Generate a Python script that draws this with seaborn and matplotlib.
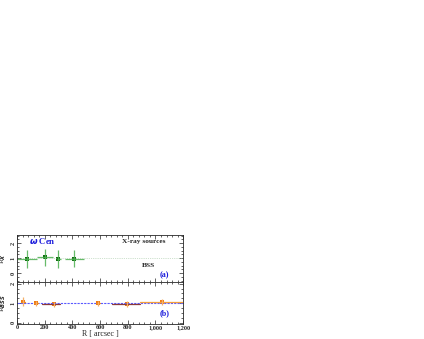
import numpy as np
import pandas as pd
import matplotlib
matplotlib.use("Agg")
import matplotlib.pyplot as plt
import seaborn as sns
from matplotlib.ticker import MultipleLocator, FuncFormatter

# top panel: X-ray sources
xr_r = [74, 202, 298, 413]
xr_lo = [0, 147, 287, 347]
xr_hi = [142, 258, 316, 485]
xr_val = [0.94, 1.05, 0.92, 0.96]
xr_err = [0.58, 0.55, 0.6, 0.58]

# bottom panel: BSS
bss_r = [45, 135, 268, 584, 794, 1046]
bss_lo = [30, 120, 180, 570, 685, 890]
bss_hi = [60, 150, 310, 600, 890, 1200]
bss_val = [1.08, 1.0, 0.95, 1.0, 0.97, 1.05]
bss_err = [0.22, 0.12, 0.12, 0.12, 0.15, 0.14]
bss_bar_col = ["#f08a1c", "#f08a1c", "#8b3a3a", "#f08a1c", "#8b3a3a", "#f5a03c"]

sns.set_style("ticks")
plt.rcParams["font.family"] = ["Liberation Serif", "DejaVu Serif"]
plt.rcParams["font.weight"] = "bold"

fig = plt.figure(figsize=(4.24, 3.39), dpi=100)
ax1 = fig.add_axes([0.040, 0.168, 0.392, 0.139])
ax2 = fig.add_axes([0.040, 0.045, 0.392, 0.123], sharex=ax1)

fs = 5.3

# top panel
ax1.axhline(1, color="#9fc59f", lw=0.5, ls=":")
xr = pd.DataFrame({"r": xr_r, "v": xr_val})
ax1.errorbar(xr_r, xr_val,
             xerr=[np.subtract(xr_r, xr_lo), np.subtract(xr_hi, xr_r)],
             yerr=xr_err, fmt="none", ecolor="#4caf50", elinewidth=0.9, alpha=0.85)
sns.scatterplot(data=xr, x="r", y="v", ax=ax1, color="#0f6e0f", marker="s",
                s=6, linewidth=0)
ax1.set_ylim(-0.6, 2.55)
ax1.set_ylabel(r"R$_X$", fontsize=fs)
ax1.yaxis.set_label_coords(-0.055, 0.5)
ax1.text(0.07, 0.8, r"$\omega$ Cen", transform=ax1.transAxes, color="#1a1adb",
         fontsize=fs + 1, fontweight="bold")
ax1.text(0.63, 0.82, "X-ray sources", transform=ax1.transAxes, fontsize=fs)
ax1.text(0.75, 0.32, "BSS", transform=ax1.transAxes, fontsize=fs)
ax1.text(0.86, 0.1, "(a)", transform=ax1.transAxes, color="#1a1adb",
         fontsize=fs + 0.5)

# bottom panel
ax2.axhline(1, color="#5a5aff", lw=0.8, ls=(0, (2, 1)))
for r, lo, hi, v, c in zip(bss_r, bss_lo, bss_hi, bss_val, bss_bar_col):
    ax2.plot([lo, hi], [v, v], color=c, lw=0.9)
ax2.errorbar(bss_r, bss_val, yerr=bss_err, fmt="none", ecolor="#f5b06a",
             elinewidth=0.9)
bss = pd.DataFrame({"r": bss_r, "v": bss_val})
sns.scatterplot(data=bss, x="r", y="v", ax=ax2, color="#f07a10", marker="s",
                s=6, linewidth=0)
ax2.set_ylim(-0.05, 2.08)
ax2.set_ylabel(r"R$_{BSS}$", fontsize=fs)
ax2.yaxis.set_label_coords(-0.055, 0.5)
ax2.text(0.86, 0.2, "(b)", transform=ax2.transAxes, color="#1a1adb",
         fontsize=fs + 0.5)
ax2.set_xlim(0, 1200)
ax2.set_xlabel("R [ arcsec ]", fontsize=fs + 0.5, labelpad=0)
ax2.xaxis.set_major_formatter(FuncFormatter(lambda v, p: f"{int(v):,}"))

for ax in (ax1, ax2):
    ax.xaxis.set_major_locator(MultipleLocator(200))
    ax.xaxis.set_minor_locator(MultipleLocator(40))
    ax.yaxis.set_major_locator(MultipleLocator(1))
    ax.yaxis.set_minor_locator(MultipleLocator(0.25))
    ax.tick_params(which="both", direction="in", top=True, right=True,
                   width=0.5, labelsize=fs - 0.8, pad=1)
    ax.tick_params(which="major", length=3)
    ax.tick_params(which="minor", length=1.5)
    for lab in ax.get_yticklabels():
        lab.set_rotation(90)
        lab.set_va("center")
    for s in ax.spines.values():
        s.set_linewidth(0.6)
ax1.tick_params(labelbottom=False)
ax1.set_xlabel("")

fig.savefig("out.png", dpi=100)
